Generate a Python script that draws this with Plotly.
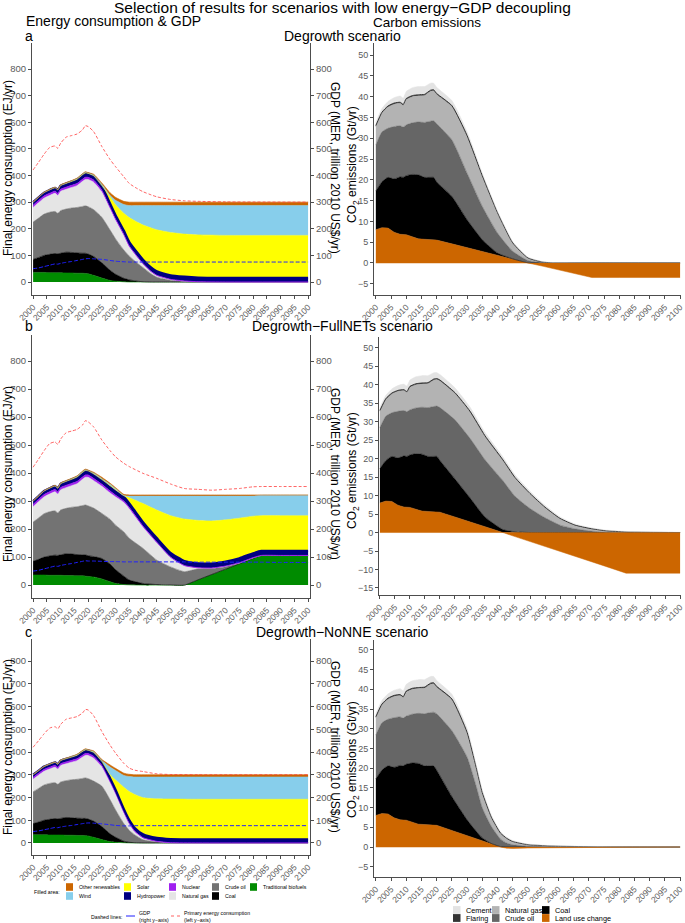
import plotly.graph_objects as go

W, H = 685, 923
FONT = "Liberation Sans, Arial, sans-serif"

# ------------------------------------------------------------------ data
hist_years = [2000, 2002, 2004, 2006, 2008, 2009, 2010, 2012, 2014, 2016, 2018, 2019]

# Final energy consumption by carrier (EJ/yr), historical part shared by all scenarios
hist_biofuels = [36, 36, 36, 35, 35, 35, 35, 34, 34, 33, 33, 32]
hist_coal = [49, 56, 64, 69, 72, 71, 73, 78, 77, 76, 75, 76]
hist_oil = [140, 148, 155, 158, 158, 152, 160, 162, 167, 171, 176, 178]
hist_gas = [55, 58, 60, 63, 68, 67, 72, 74, 77, 82, 94, 99]
hist_nuclear = [8, 8, 8, 8, 8, 8, 8, 8, 8, 8, 8, 8]
hist_hydro = [12, 12, 13, 13, 13, 13, 14, 14, 14, 15, 15, 14]
hist_solar = [0, 0, 0, 0, 0, 0, 0.1, 0.3, 0.6, 1, 1.5, 2]
hist_wind = [0.2, 0.3, 0.5, 0.7, 1, 1.2, 1.4, 1.8, 2.2, 2.6, 3, 3.2]
hist_other = [1, 1, 1, 1, 1.2, 1.2, 1.3, 1.4, 1.5, 1.6, 1.8, 2]
hist_primary = [421, 450, 480, 505, 511, 502, 521, 544, 550, 556, 572, 587]
hist_gdp = [50, 53, 58, 63, 68, 67, 70, 74, 77, 81, 85, 87]

# Degrowth scenario
years_a = [2020, 2022, 2025, 2028, 2030, 2033, 2035, 2038, 2040, 2043, 2045, 2050, 2055, 2060, 2070, 2100]
a_biofuels = [31, 25, 15, 6, 3, 1, 0, 0, 0, 0, 0, 0, 0, 0, 0, 0]
a_coal = [74, 71, 57, 38, 26, 13, 8, 3, 1, 0, 0, 0, 0, 0, 0, 0]
a_oil = [178, 176, 171, 151, 133, 106, 89, 67, 53, 30, 18, 7, 3, 1, 0, 0]
a_gas = [102, 103, 95, 80, 70, 55, 35, 22, 14, 8, 7, 3, 1, 0, 0, 0]
a_nuclear = [8, 8, 7, 6, 5, 4, 3, 2, 1, 1, 0, 0, 0, 0, 0, 0]
a_hydro = [14, 14, 14, 14, 14, 14, 15, 15, 15, 15, 15, 15, 16, 16, 16, 16]
a_solar = [1, 2, 3, 25, 39, 65, 92, 115, 130, 149, 156, 161, 160, 160, 159, 159]
a_wind = [1.5, 3, 5, 5, 17, 33, 45, 63, 73, 84, 91, 101, 107, 110, 112, 112]
a_other = [1.5, 3, 5, 10, 11, 12, 13, 13, 13, 13, 13, 13, 13, 13, 13, 13]
a_primary = [584, 565, 509, 460, 433, 395, 370, 350, 339, 327, 320, 310, 305, 303, 301, 300]
a_gdp = [88, 87, 85, 81, 78, 76, 75, 75, 75, 75, 75, 75, 75, 75, 75, 75]

# Degrowth-FullNETs scenario
years_b = [2020, 2022, 2025, 2028, 2030, 2033, 2035, 2040, 2045, 2050, 2055, 2060, 2065, 2070, 2075, 2080, 2083, 2090, 2100]
b_biofuels = [31, 29, 22, 12, 6, 2, 1, 0, 0, 0, 0, 19, 38, 57, 76, 95, 106, 106, 106]
b_coal = [74, 73, 73, 63, 49, 30, 17, 6, 2, 0.5, 0, 0, 0, 0, 0, 0, 0, 0, 0]
b_oil = [178, 173, 161, 160, 159, 158, 149, 125, 87, 64.5, 48, 39, 22, 9, 2, 2, 0, 0, 0]
b_gas = [102, 98, 97, 94, 101, 105, 105, 76, 62, 34, 22, 4, 1, 2, 2, 1, 0, 0, 0]
b_nuclear = [8, 8, 7, 7, 6, 5, 5, 3, 2, 1, 0, 0, 0, 0, 0, 0, 0, 0, 0]
b_hydro = [14, 14, 14, 14, 14, 15, 15, 15, 15, 15, 16, 16, 16, 16, 16, 16, 16, 16, 16]
b_solar = [1, 2, 3, 5, 5, 4, 20, 66, 100, 133, 150, 153, 152, 149, 143, 132, 126, 126, 126]
b_wind = [1.5, 3, 3, 5, 4, 1, 6, 27, 50, 70, 82, 87, 89, 85, 79, 72, 73, 73, 73]
b_other = [1.5, 3, 5, 4, 4, 4, 4, 4, 4, 4, 4, 4, 4, 4, 4, 4, 1, 1, 1]
b_primary = [583, 565, 518, 480, 458, 435, 423, 399, 381, 361, 345, 342, 339, 342, 345, 351, 352, 352, 352]
b_gdp = [86, 86, 85, 84, 84, 83, 83, 83, 83, 83, 83, 82, 82, 82, 82, 82, 82, 81, 81]

# Degrowth-NoNNE scenario
years_c = [2020, 2022, 2025, 2028, 2030, 2033, 2035, 2037, 2040, 2045, 2050, 2060, 2100]
c_biofuels = [31, 25, 15, 6, 3, 1, 0, 0, 0, 0, 0, 0, 0]
c_coal = [74, 71, 57, 34, 22, 7, 3, 1, 0, 0, 0, 0, 0]
c_oil = [178, 176, 178, 150, 120, 77, 52, 34, 14, 5, 1, 0, 0]
c_gas = [102, 101, 84, 75, 70, 47, 28, 14, 8, 2, 0, 0, 0]
c_nuclear = [8, 8, 7, 6, 5, 4, 3, 2, 1, 0, 0, 0, 0]
c_hydro = [14, 14, 14, 14, 14, 14, 15, 15, 15, 15, 16, 16, 16]
c_solar = [1, 3, 3, 15, 43, 95, 125, 147, 161, 172, 176, 176, 176]
c_wind = [1.5, 4, 5, 34, 42, 52, 66, 77, 91, 96, 97, 98, 98]
c_other = [1.5, 3, 4, 9, 9, 10, 10, 10, 10, 10, 10, 10, 10]
c_primary = [585, 560, 490, 430, 395, 350, 329, 320, 314, 304, 301, 300, 300]
c_gdp = [88, 87, 84, 80, 77, 75, 75, 76, 76, 76, 76, 76, 76]

# CO2 emissions by source (Gt/yr), historical part shared
co2_hist_luc = [8.0, 8.5, 8.4, 7.4, 6.9, 6.8, 6.8, 6.3, 5.8, 5.7, 5.6, 5.6]
co2_hist_coal = [9.3, 11.0, 12.2, 12.8, 13.8, 13.8, 14.2, 15.0, 15.4, 14.9, 15.0, 15.0]
co2_hist_oil = [11.1, 12.0, 11.8, 12.6, 12.3, 12.1, 12.2, 12.4, 12.7, 13.2, 13.5, 13.6]
co2_hist_gas = [4.4, 4.5, 5.1, 5.4, 5.4, 5.2, 6.1, 6.3, 6.3, 6.5, 7.2, 7.2]
co2_hist_flaring = [0.25, 0.25, 0.25, 0.25, 0.25, 0.25, 0.25, 0.25, 0.25, 0.25, 0.25, 0.25]
co2_hist_cement = [0.8, 0.9, 1.1, 1.3, 1.5, 1.5, 1.7, 1.9, 2.0, 1.9, 1.7, 1.6]

co2_years_a = [2020, 2025, 2030, 2035, 2040, 2045, 2050, 2055, 2060, 2071, 2080, 2100]
co2_a_luc = [5.5, 4.6, 3.7, 2.8, 1.8, 0.9, 0.0, -0.8, -1.7, -3.5, -3.5, -3.5]
co2_a_coal = [14.0, 11.4, 6.7, 2.8, 0.6, 0.1, 0.05, 0, 0, 0, 0, 0]
co2_a_oil = [14.0, 13.6, 11.2, 8.0, 4.8, 1.8, 0.55, 0.1, 0, 0, 0, 0]
co2_a_gas = [7.0, 8.0, 8.8, 7.2, 4.8, 2.0, 0.6, 0.1, 0, 0, 0, 0]
co2_a_flaring = [0.25, 0.25, 0.25, 0.2, 0.1, 0.05, 0.02, 0, 0, 0, 0, 0]
co2_a_cement = [1.5, 1.2, 0.9, 0.6, 0.4, 0.3, 0.2, 0.1, 0.05, 0, 0, 0]

co2_years_b = [2020, 2025, 2030, 2035, 2041, 2045, 2050, 2055, 2060, 2065, 2070, 2075, 2082, 2090, 2100]
co2_b_luc = [5.5, 4.2, 2.9, 1.6, 0.0, -1.1, -2.4, -3.8, -5.1, -6.4, -7.8, -9.1, -11.0, -11.0, -11.0]
co2_b_coal = [14.0, 10.3, 6.5, 2.6, 0.8, 0.2, 0, 0, 0, 0, 0, 0, 0, 0, 0]
co2_b_oil = [14.3, 16.0, 16.1, 15.5, 13.2, 9.6, 6.5, 4.0, 2.0, 1.0, 0.4, 0.1, 0, 0, 0]
co2_b_gas = [7.2, 7.1, 7.1, 6.3, 5.5, 5.0, 4.0, 2.8, 1.8, 1.0, 0.7, 0.4, 0.15, 0.05, 0]
co2_b_flaring = [0.25, 0.25, 0.25, 0.2, 0.15, 0.1, 0.08, 0.05, 0.03, 0.02, 0.01, 0, 0, 0, 0]
co2_b_cement = [1.5, 1.3, 1.1, 0.9, 0.8, 0.7, 0.6, 0.5, 0.4, 0.3, 0.25, 0.2, 0.15, 0.1, 0.1]

co2_years_c = [2020, 2025, 2030, 2033, 2035, 2038, 2041, 2043, 2045, 2050, 2060, 2080, 2100]
co2_c_luc = [5.5, 4.2, 2.9, 2.1, 1.6, 0.8, 0.0, -0.3, -0.35, -0.25, -0.15, -0.05, 0]
co2_c_coal = [14.0, 8.6, 4.0, 1.9, 0.7, 0.1, 0.1, 0, 0, 0, 0, 0, 0]
co2_c_oil = [14.3, 16.7, 15.9, 11.4, 7.6, 4.3, 1.9, 1.0, 0.6, 0.2, 0.05, 0, 0]
co2_c_gas = [6.7, 7.8, 6.1, 4.6, 3.8, 2.3, 1.5, 1.2, 0.8, 0.4, 0.15, 0.05, 0]
co2_c_flaring = [0.25, 0.25, 0.2, 0.15, 0.1, 0.06, 0.03, 0.02, 0.01, 0, 0, 0, 0]
co2_c_cement = [1.5, 1.2, 1.0, 0.8, 0.7, 0.5, 0.35, 0.3, 0.25, 0.15, 0.08, 0.03, 0.02]

energy_names = ["Traditional biofuels", "Coal", "Crude oil", "Natural gas", "Nuclear",
                "Hydropower", "Solar", "Wind", "Other renewables"]
energy_colors = ["#008b00", "#000000", "#737373", "#e5e5e5", "#a020f0",
                 "#000080", "#ffff00", "#87ceeb", "#cc6600"]
co2_names = ["Land use change", "Coal", "Crude oil", "Natural gas", "Flaring", "Cement"]
co2_colors = ["#cc6600", "#000000", "#666666", "#b3b3b3", "#333333", "#e3e3e3"]

scenario_titles = ["Degrowth scenario", "Degrowth\u2212FullNETs scenario", "Degrowth\u2212NoNNE scenario"]
panel_letters = ["a", "b", "c"]
x_ticks = list(range(2000, 2101, 5))
energy_ticks = list(range(0, 801, 100))

# ------------------------------------------------------------------ helpers
AX = "#4d4d4d"
TK = "#5a5a5a"
SMOOTH = 0.5


def px(x):
    return x / W


def py(y):
    return 1 - y / H


fig = go.Figure()


def add_energy(xa, ya, yg, fut_years, fut_series, primary, gdp, sg):
    yrs = hist_years + fut_years
    hist_series = [hist_biofuels, hist_coal, hist_oil, hist_gas, hist_nuclear,
                   hist_hydro, hist_solar, hist_wind, hist_other]
    for name, h, f, col in zip(energy_names, hist_series, fut_series, energy_colors):
        lw = 0.6
        if name == "Hydropower":
            lw = 2.2
        elif name == "Nuclear":
            lw = 1.0
        fig.add_trace(go.Scatter(x=yrs, y=h + f, stackgroup=sg, mode="lines",
                                 line=dict(color=col, width=lw, shape="spline", smoothing=SMOOTH),
                                 fillcolor=col, xaxis=xa, yaxis=ya, name=name,
                                 showlegend=False, hoverinfo="skip"))
    fig.add_trace(go.Scatter(x=yrs, y=hist_primary + primary, mode="lines",
                             line=dict(color="rgba(255,60,60,0.8)", width=1, dash="3px,2px",
                                       shape="spline", smoothing=0.6),
                             xaxis=xa, yaxis=ya, showlegend=False, hoverinfo="skip",
                             name="Primary energy consumption"))
    fig.add_trace(go.Scatter(x=yrs, y=hist_gdp + gdp, mode="lines",
                             line=dict(color="#2020ff", width=1, dash="4px,2px",
                                       shape="spline", smoothing=0.6),
                             xaxis=xa, yaxis=yg, showlegend=False, hoverinfo="skip",
                             name="GDP"))


def add_co2(xa, ya, fut_years, fut_series, sg):
    yrs = hist_years + fut_years
    hist_series = [co2_hist_luc, co2_hist_coal, co2_hist_oil, co2_hist_gas,
                   co2_hist_flaring, co2_hist_cement]
    full = [h + f for h, f in zip(hist_series, fut_series)]
    luc = full[0]
    luc_pos = [max(v, 0) for v in luc]
    luc_neg = [min(v, 0) for v in luc]
    stack = [luc_pos] + full[1:]
    for name, vals, col in zip(co2_names, stack, co2_colors):
        lw = 0.5
        if name == "Flaring":
            lw = 1.0
        shape = "linear" if name == "Land use change" else "spline"
        fig.add_trace(go.Scatter(x=yrs, y=vals, stackgroup=sg, mode="lines",
                                 line=dict(color=col, width=lw, shape=shape, smoothing=SMOOTH),
                                 fillcolor=col, xaxis=xa, yaxis=ya, name=name,
                                 showlegend=False, hoverinfo="skip"))
    fig.add_trace(go.Scatter(x=yrs, y=luc_neg, mode="lines", fill="tozeroy",
                             line=dict(color=co2_colors[0], width=0.5), fillcolor=co2_colors[0],
                             xaxis=xa, yaxis=ya, name="Land use change", showlegend=False,
                             hoverinfo="skip"))


add_energy("x", "y", "y7", years_a,
           [a_biofuels, a_coal, a_oil, a_gas, a_nuclear, a_hydro, a_solar, a_wind, a_other],
           a_primary, a_gdp, "ea")
add_energy("x3", "y3", "y8", years_b,
           [b_biofuels, b_coal, b_oil, b_gas, b_nuclear, b_hydro, b_solar, b_wind, b_other],
           b_primary, b_gdp, "eb")
add_energy("x5", "y5", "y9", years_c,
           [c_biofuels, c_coal, c_oil, c_gas, c_nuclear, c_hydro, c_solar, c_wind, c_other],
           c_primary, c_gdp, "ec")

add_co2("x2", "y2", co2_years_a,
        [co2_a_luc, co2_a_coal, co2_a_oil, co2_a_gas, co2_a_flaring, co2_a_cement], "ca")
add_co2("x4", "y4", co2_years_b,
        [co2_b_luc, co2_b_coal, co2_b_oil, co2_b_gas, co2_b_flaring, co2_b_cement], "cb")
add_co2("x6", "y6", co2_years_c,
        [co2_c_luc, co2_c_coal, co2_c_oil, co2_c_gas, co2_c_flaring, co2_c_cement], "cc")

# ------------------------------------------------------------------ axes
def xax(x0, x1, y_anchor, rng):
    return dict(domain=[px(x0), px(x1)], range=rng, anchor=y_anchor, showline=True,
                linecolor=AX, linewidth=1, ticks="outside", ticklen=3, tickcolor=AX,
                tickvals=x_ticks, tickangle=-45, tickfont=dict(size=8.5, color=TK, family=FONT),
                showgrid=False, zeroline=False, fixedrange=True, automargin=False)


def yax(top, bottom, x_anchor, rng, ticks, side="left", overlay=None):
    d = dict(range=rng, anchor=x_anchor, showline=True, linecolor=AX,
             linewidth=1, ticks="outside", ticklen=3, tickcolor=AX, tickvals=ticks,
             tickfont=dict(size=9.5, color=TK, family=FONT), showgrid=False,
             zeroline=False, fixedrange=True, side=side, automargin=False)
    if overlay:
        d["overlaying"] = overlay
    else:
        d["domain"] = [py(bottom), py(top)]
    return d


LX0, LX1 = 32, 310
RX1 = 681
left_rows = [(43, 295, [-48.8, 897.7]), (335, 598, [-46, 893]), (639, 855, [-53, 897])]
right_rows = [(374, 43, 295, [-7.7, 52.9], list(range(-5, 51, 5)), [1999.4, 2100.3]),
              (379, 337, 595, [-16.9, 52.9], list(range(-15, 51, 5)), [1999.7, 2100.3]),
              (374, 640, 877, [-7.6, 52.5], list(range(-5, 51, 5)), [1999.4, 2100.3])]

layout = dict(width=W, height=H, autosize=False, margin=dict(l=0, r=0, t=0, b=0, autoexpand=False),
              paper_bgcolor="white", plot_bgcolor="rgba(0,0,0,0)",
              font=dict(family=FONT, color="#000000"), showlegend=False)

for i in range(3):
    top, bottom, rng = left_rows[i]
    xn = 2 * i + 1
    xname = "x" if xn == 1 else "x%d" % xn
    yname = "y" if xn == 1 else "y%d" % xn
    layout["xaxis" if xn == 1 else "xaxis%d" % xn] = xax(LX0, LX1, yname, [1999.6, 2100.7])
    layout["yaxis" if xn == 1 else "yaxis%d" % xn] = yax(top, bottom, xname, rng, energy_ticks)
    layout["yaxis%d" % (7 + i)] = yax(top, bottom, xname, rng, energy_ticks, side="right",
                                     overlay=yname)
    rx0, rtop, rbottom, rrng, rticks, rx_range = right_rows[i]
    xn2 = 2 * i + 2
    layout["xaxis%d" % xn2] = xax(rx0, RX1, "y%d" % xn2, rx_range)
    layout["yaxis%d" % xn2] = yax(rtop, rbottom, "x%d" % xn2, rrng, rticks)
    layout["yaxis%d" % xn2]["tickfont"] = dict(size=9, color=TK, family=FONT)

# ------------------------------------------------------------------ text
ann = []


def text(x, y, s, size, xanchor="center", yanchor="middle", angle=0, color="#000000"):
    ann.append(dict(x=px(x), y=py(y), xref="paper", yref="paper", text=s, showarrow=False,
                    xanchor=xanchor, yanchor=yanchor, textangle=angle,
                    font=dict(size=size, color=color, family=FONT)))


text(342, 7.5, "Selection of results for scenarios with low energy\u2212GDP decoupling", 15.5)
text(24, 21.5, "Energy consumption &amp; GDP", 14, xanchor="left")
text(427, 22, "Carbon emissions", 13.5)

letter_y = [36, 326, 632]
etitle_y = [168, 474, 747]
co2title_y = [164, 470, 759]
for i in range(3):
    text(23, letter_y[i], panel_letters[i], 14, xanchor="left")
    text(342, letter_y[i], scenario_titles[i], 14)
    text(8, etitle_y[i], "Final energy consumption (EJ/yr)", 12, angle=-90)
    text(335, etitle_y[i], "GDP (MER, trillion 2010 US$/yr)", 12, angle=90)
    text(353, co2title_y[i], "CO<sub>2</sub> emissions (Gt/yr)", 12, angle=-90)

shapes = []

# left legend (filled areas)
leg_left_order = ["Other renewables", "Wind", "Solar", "Hydropower", "Nuclear",
                  "Natural gas", "Crude oil", "Coal", "Traditional biofuels"]
leg_left_cols = [66, 124, 169, 212, 250]
leg_left_rows = [887, 896]
LEGF = 5.2
text(62, 892, "Filled area:", LEGF, xanchor="right")
for k, name in enumerate(leg_left_order):
    cx = leg_left_cols[k // 2]
    cy = leg_left_rows[k % 2]
    col = energy_colors[energy_names.index(name)]
    shapes.append(dict(type="rect", xref="paper", yref="paper",
                       x0=px(cx), x1=px(cx + 7), y0=py(cy + 3.8), y1=py(cy - 3.8),
                       fillcolor=col, line=dict(width=0)))
    text(cx + 10.5, cy, name, LEGF, xanchor="left")

# left legend (dashed lines)
text(124, 917, "Dashed lines:", LEGF, xanchor="right")
shapes.append(dict(type="line", xref="paper", yref="paper", x0=px(126), x1=px(135),
                   y0=py(916), y1=py(916), line=dict(color="#2020ff", width=1, dash="dash")))
text(137, 913, "GDP", LEGF, xanchor="left")
text(137, 920, "(right y\u2212axis)", LEGF, xanchor="left")
shapes.append(dict(type="line", xref="paper", yref="paper", x0=px(171), x1=px(180),
                   y0=py(916), y1=py(916),
                   line=dict(color="rgba(255,60,60,0.8)", width=1, dash="dot")))
text(182, 913, "Primary energy consumption", LEGF, xanchor="left")
text(182, 920, "(left y\u2212axis)", LEGF, xanchor="left")

# right legend (CO2 sources)
leg_right_order = ["Cement", "Flaring", "Natural gas", "Crude oil", "Coal", "Land use change"]
leg_right_cols = [453, 492, 542]
leg_right_rows = [910, 918]
for k, name in enumerate(leg_right_order):
    cx = leg_right_cols[k // 2]
    cy = leg_right_rows[k % 2]
    col = co2_colors[co2_names.index(name)]
    shapes.append(dict(type="rect", xref="paper", yref="paper",
                       x0=px(cx), x1=px(cx + 7.5), y0=py(cy + 3.9), y1=py(cy - 3.9),
                       fillcolor=col, line=dict(width=0)))
    text(cx + 10.5, cy, name, 7.3, xanchor="left")

layout["annotations"] = ann
layout["shapes"] = shapes
fig.update_layout(**layout)

fig.write_html("out.html", config={"displayModeBar": False},
               post_script="document.body.style.margin='0';document.body.style.overflow='hidden';")
